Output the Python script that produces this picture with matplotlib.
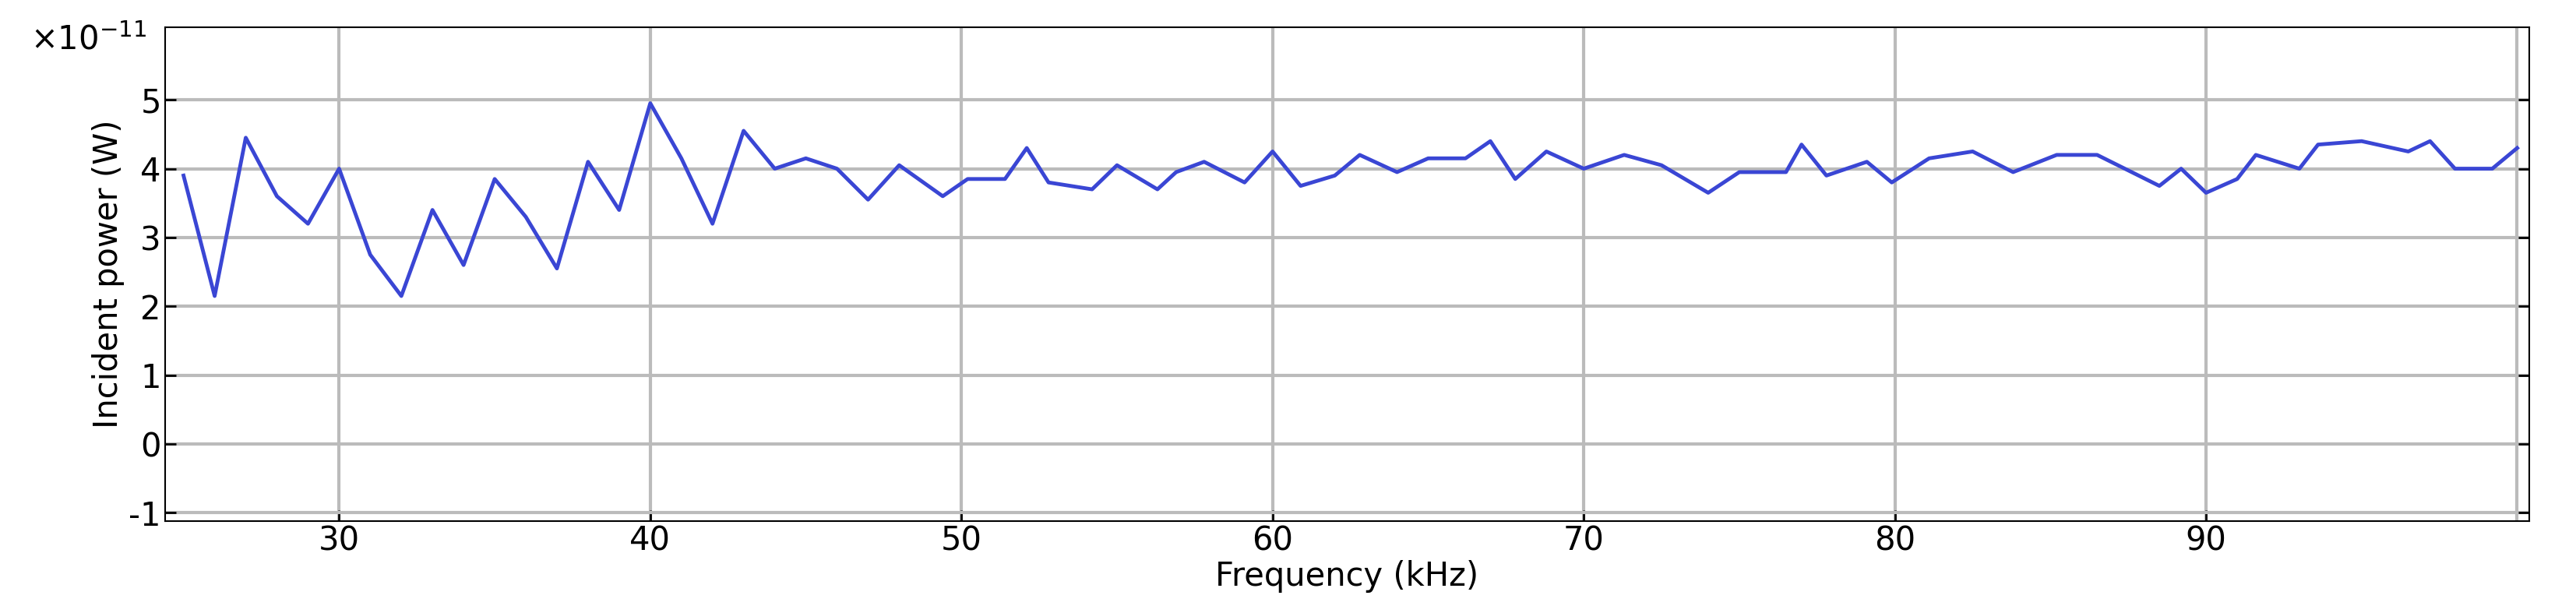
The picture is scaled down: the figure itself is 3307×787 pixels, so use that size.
import numpy as np
import matplotlib.pyplot as plt

plt.rcParams['axes.unicode_minus'] = False

freq = [25, 26, 27, 28, 29, 30, 31, 32, 33, 34, 35, 36, 37, 38, 39, 40, 41, 42, 43, 44,
        45, 46, 47, 48, 49.4, 50.2, 51.4, 52.1, 52.8, 54.2, 55, 56.3, 56.9, 57.8, 59.1,
        60, 60.9, 62, 62.8, 64, 65, 66.2, 67, 67.8, 68.8, 70, 71.3, 72.5, 74, 75, 76.5,
        77, 77.8, 79.1, 79.9, 81.1, 82.5, 83.8, 85.2, 86.5, 88.5, 89.2, 90, 91, 91.6,
        93, 93.6, 95, 96.5, 97.2, 98, 99.2, 100]
power = [3.9, 2.15, 4.45, 3.6, 3.2, 4.0, 2.75, 2.15, 3.4, 2.6, 3.85, 3.3, 2.55, 4.1, 3.4,
         4.95, 4.15, 3.2, 4.55, 4.0, 4.15, 4.0, 3.55, 4.05, 3.6, 3.85, 3.85, 4.3, 3.8, 3.7,
         4.05, 3.7, 3.95, 4.1, 3.8, 4.25, 3.75, 3.9, 4.2, 3.95, 4.15, 4.15, 4.4, 3.85, 4.25,
         4.0, 4.2, 4.05, 3.65, 3.95, 3.95, 4.35, 3.9, 4.1, 3.8, 4.15, 4.25, 3.95, 4.2, 4.2,
         3.75, 4.0, 3.65, 3.85, 4.2, 4.0, 4.35, 4.4, 4.25, 4.4, 4.0, 4.0, 4.3]
xticks = [30, 40, 50, 60, 70, 80, 90]
yticks = [-1, 0, 1, 2, 3, 4, 5]

fig = plt.figure(figsize=(33.07, 7.87), dpi=100)
ax = fig.add_axes([0.064, 0.15, 0.918, 0.805])
ax.plot(freq, power, color='#3a46d4', linewidth=3.5)
ax.set_xlim(24.4, 100.4)
ax.set_ylim(-1.12, 6.05)
ax.set_xticks(xticks)
ax.set_yticks(yticks)
ax.set_xticks([100], minor=True)
ax.grid(True, which='both', color='#bbbbbb', linewidth=3)
ax.set_axisbelow(True)
ax.tick_params(direction='in', labelsize=30, length=10, width=2, right=True, top=False)
ax.tick_params(which='minor', length=0)
for s in ax.spines.values():
    s.set_linewidth(1.5)
ax.set_xlabel('Frequency (kHz)', fontsize=30, labelpad=2)
ax.set_ylabel('Incident power (W)', fontsize=30)
ax.text(-0.057, 0.975, r'$\times$10$^{-11}$', transform=ax.transAxes, fontsize=30, va='center')
fig.savefig('out.png', dpi=100)
